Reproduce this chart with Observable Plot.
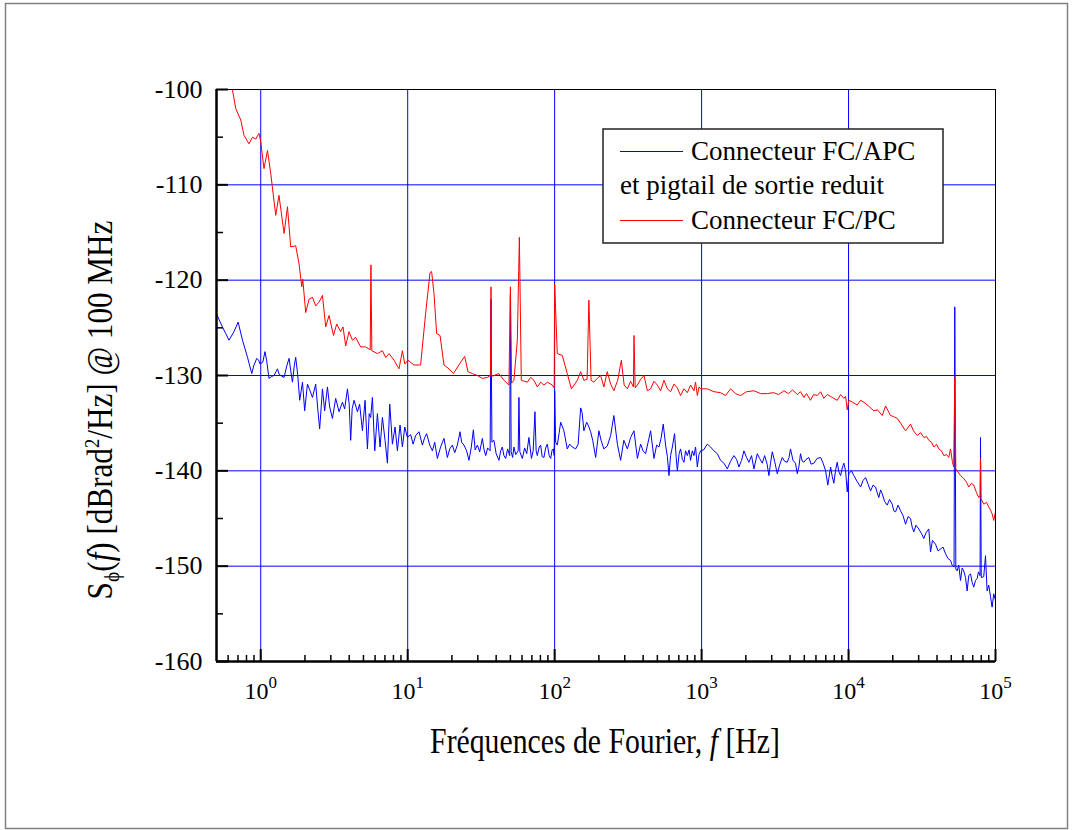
<!DOCTYPE html>
<html><head><meta charset="utf-8">
<script src="https://cdn.jsdelivr.net/npm/d3@7"></script>
<script src="https://cdn.jsdelivr.net/npm/@observablehq/plot@0.6"></script>
<style>
html,body{margin:0;padding:0;background:#fff;}
#chart{position:relative;width:1074px;height:830px;}
#chart svg{display:block;}
</style></head><body><div id="chart"></div>
<script>
// Series names
const legendLabels = ["Connecteur FC/APC", "et pigtail de sortie reduit", "Connecteur FC/PC"];

// Blue series: Connecteur FC/APC et pigtail de sortie reduit (frequency as decade exponent, value in dBrad²/Hz)
const apcLogF = [
-0.299,-0.261,-0.238,-0.216,-0.182,-0.154,-0.124,-0.090,-0.061,-0.048,
-0.027,-0.014,-0.005,0.014,0.029,0.041,0.056,0.075,0.090,0.114,
0.126,0.136,0.159,0.177,0.193,0.204,0.216,0.228,0.238,0.252,
0.265,0.284,0.299,0.318,0.333,0.352,0.374,0.388,0.401,0.420,
0.435,0.454,0.469,0.488,0.510,0.533,0.556,0.571,0.590,0.602,
0.612,0.622,0.635,0.658,0.673,0.692,0.710,0.726,0.738,0.748,
0.760,0.776,0.794,0.812,0.828,0.846,0.862,0.878,0.896,0.914,
0.930,0.948,0.964,0.980,0.998,1.020,1.037,1.054,1.077,1.100,
1.116,1.129,1.150,1.168,1.184,1.202,1.224,1.247,1.270,1.286,
1.304,1.320,1.338,1.356,1.367,1.383,1.401,1.417,1.432,1.447,
1.459,1.474,1.490,1.508,1.520,1.531,1.544,1.561,1.567,1.573,
1.587,1.602,1.621,1.633,1.644,1.655,1.667,1.680,1.694,1.699,
1.704,1.714,1.723,1.735,1.752,1.757,1.763,1.780,1.796,1.810,
1.825,1.842,1.854,1.866,1.874,1.882,1.895,1.905,1.915,1.927,
1.939,1.950,1.963,1.973,1.983,1.991,1.997,2.000,2.007,2.018,
2.031,2.041,2.051,2.063,2.086,2.102,2.120,2.143,2.160,2.177,
2.187,2.199,2.218,2.231,2.245,2.259,2.279,2.301,2.316,2.335,
2.358,2.381,2.403,2.427,2.449,2.471,2.495,2.517,2.540,2.563,
2.585,2.602,2.619,2.636,2.653,2.676,2.694,2.710,2.724,2.739,
2.755,2.767,2.778,2.789,2.801,2.816,2.827,2.835,2.847,2.857,
2.869,2.880,2.891,2.903,2.915,2.925,2.937,2.948,2.959,2.971,
2.982,2.993,3.014,3.039,3.061,3.084,3.107,3.129,3.152,3.175,
3.197,3.220,3.238,3.254,3.272,3.288,3.306,3.322,3.340,3.356,
3.379,3.395,3.413,3.429,3.446,3.458,3.469,3.481,3.497,3.515,
3.531,3.549,3.565,3.583,3.595,3.605,3.622,3.639,3.651,3.663,
3.673,3.685,3.696,3.711,3.730,3.745,3.764,3.786,3.810,3.827,
3.844,3.859,3.878,3.889,3.900,3.912,3.923,3.934,3.946,3.957,
3.968,3.980,3.991,4.002,4.020,4.036,4.058,4.082,4.099,4.116,
4.133,4.150,4.167,4.184,4.195,4.206,4.218,4.229,4.245,4.263,
4.279,4.297,4.308,4.320,4.337,4.354,4.371,4.388,4.405,4.422,
4.433,4.444,4.459,4.478,4.497,4.512,4.527,4.546,4.558,4.571,
4.592,4.609,4.626,4.643,4.660,4.677,4.694,4.705,4.718,4.723,
4.730,4.739,4.750,4.762,4.773,4.784,4.796,4.807,4.818,4.830,
4.841,4.852,4.864,4.875,4.884,4.895,4.898,4.903,4.920,4.932,
4.943,4.954,4.966,4.977,4.988,5.000];
const apcDb = [
-123.6,-124.9,-125.6,-126.3,-125.4,-124.4,-126.3,-128.1,-129.8,-129.0,
-128.2,-128.4,-128.8,-128.6,-127.5,-128.5,-130.3,-130.1,-130.0,-129.3,
-129.9,-130.0,-130.2,-129.0,-128.2,-129.5,-130.7,-129.0,-128.1,-130.0,
-132.6,-130.7,-133.7,-130.9,-131.5,-132.3,-130.9,-133.5,-135.6,-131.4,
-133.7,-131.2,-133.3,-134.5,-132.4,-133.8,-132.8,-133.5,-131.4,-133.0,
-136.8,-133.5,-132.6,-133.8,-133.0,-135.8,-132.6,-137.7,-134.0,-134.4,
-132.3,-137.9,-134.0,-137.5,-134.4,-136.8,-139.2,-133.0,-137.2,-135.4,
-137.9,-135.2,-137.5,-135.4,-136.5,-136.2,-137.2,-136.3,-135.9,-137.3,
-136.5,-136.1,-137.3,-137.9,-137.0,-138.7,-137.5,-136.6,-138.6,-137.7,
-137.3,-138.1,-137.3,-135.9,-137.0,-137.3,-137.9,-138.9,-137.6,-135.7,
-137.8,-137.3,-138.0,-136.6,-137.8,-138.4,-137.6,-137.9,-122.0,-137.0,
-136.8,-138.2,-138.9,-137.9,-137.5,-138.4,-138.7,-137.7,-138.4,-121.5,
-138.0,-138.6,-137.5,-138.3,-137.9,-132.3,-138.0,-138.7,-137.6,-138.2,
-136.5,-138.7,-137.9,-133.8,-137.9,-138.4,-137.5,-137.3,-138.5,-138.6,
-137.6,-137.2,-138.4,-138.7,-137.8,-137.7,-138.4,-131.6,-137.0,-137.3,
-136.0,-134.9,-135.3,-135.8,-137.7,-137.2,-137.5,-137.7,-137.2,-133.4,
-133.9,-135.8,-134.9,-135.3,-135.9,-136.8,-138.6,-135.8,-136.8,-137.7,
-137.4,-136.3,-134.2,-137.2,-138.9,-136.8,-137.7,-136.5,-135.8,-138.7,
-137.2,-137.9,-138.2,-137.0,-135.8,-138.7,-137.3,-137.5,-136.6,-135.1,
-137.3,-138.5,-140.5,-138.4,-137.5,-136.1,-138.6,-140.0,-138.2,-137.7,
-138.8,-139.1,-137.9,-138.4,-137.8,-138.9,-137.9,-138.4,-137.5,-139.6,
-138.3,-137.9,-137.8,-137.2,-137.5,-137.9,-138.2,-138.9,-139.2,-139.8,
-139.0,-138.4,-138.8,-139.6,-138.9,-137.9,-138.6,-139.1,-138.4,-139.8,
-138.2,-138.7,-139.2,-138.4,-139.3,-140.5,-139.2,-138.0,-139.0,-140.3,
-139.4,-138.6,-139.0,-139.1,-138.6,-137.7,-138.9,-139.2,-140.3,-139.5,
-138.2,-139.0,-139.1,-138.8,-138.6,-139.3,-139.2,-138.7,-138.6,-139.2,
-140.0,-141.5,-139.6,-140.6,-141.3,-139.9,-139.1,-140.1,-140.5,-139.7,
-139.2,-140.0,-142.2,-140.3,-140.0,-140.5,-141.1,-141.7,-141.0,-140.7,
-141.4,-142.1,-141.5,-141.7,-142.3,-142.8,-142.0,-142.4,-143.2,-143.6,
-143.0,-143.5,-144.2,-144.3,-143.6,-144.2,-144.7,-145.6,-144.8,-145.0,
-145.9,-146.4,-145.7,-146.1,-146.6,-147.1,-146.5,-146.1,-148.5,-147.3,
-147.7,-148.4,-148.2,-148.0,-148.7,-149.2,-149.4,-149.9,-150.1,-122.8,
-150.3,-150.5,-149.9,-151.5,-150.2,-150.5,-151.2,-152.6,-151.0,-150.8,
-151.7,-152.2,-151.5,-151.3,-150.6,-151.0,-136.5,-151.2,-151.1,-148.9,
-152.6,-152.0,-153.2,-154.3,-152.9,-153.6];

// Red series: Connecteur FC/PC
const pcLogF = [
-0.299,-0.238,-0.193,-0.170,-0.136,-0.114,-0.080,-0.056,-0.034,-0.012,
0.000,0.022,0.046,0.068,0.102,0.124,0.159,0.182,0.204,0.238,
0.261,0.279,0.286,0.306,0.329,0.352,0.374,0.397,0.420,0.442,
0.465,0.495,0.517,0.544,0.560,0.578,0.601,0.624,0.646,0.680,
0.714,0.745,0.750,0.756,0.794,0.828,0.850,0.873,0.907,0.941,
0.964,0.980,1.002,1.043,1.088,1.122,1.152,1.163,1.179,1.197,
1.220,1.247,1.281,1.311,1.361,1.388,1.410,1.440,1.474,1.508,
1.542,1.563,1.567,1.570,1.587,1.621,1.655,1.689,1.699,1.707,
1.723,1.746,1.760,1.773,1.814,1.837,1.859,1.882,1.905,1.927,
1.950,1.984,1.997,2.000,2.018,2.052,2.086,2.114,2.154,2.177,
2.199,2.221,2.233,2.248,2.267,2.290,2.313,2.335,2.358,2.381,
2.403,2.429,2.454,2.473,2.495,2.517,2.536,2.540,2.548,2.563,
2.585,2.608,2.631,2.653,2.676,2.699,2.721,2.744,2.767,2.789,
2.812,2.835,2.857,2.880,2.903,2.925,2.948,2.959,2.971,2.983,
2.993,3.039,3.084,3.129,3.163,3.197,3.231,3.265,3.306,3.356,
3.401,3.447,3.490,3.524,3.560,3.592,3.619,3.651,3.673,3.696,
3.714,3.741,3.762,3.787,3.810,3.832,3.855,3.878,3.900,3.923,
3.946,3.968,3.980,3.991,4.002,4.027,4.059,4.082,4.104,4.136,
4.172,4.197,4.229,4.252,4.286,4.306,4.331,4.354,4.388,4.422,
4.442,4.467,4.490,4.512,4.531,4.546,4.565,4.580,4.599,4.614,
4.633,4.648,4.667,4.682,4.694,4.707,4.716,4.723,4.730,4.739,
4.762,4.784,4.803,4.818,4.837,4.852,4.871,4.886,4.895,4.898,
4.901,4.920,4.939,4.954,4.966,4.977,4.988,5.000];
const pcDb = [
-97.0,-98.6,-100.0,-102.0,-103.2,-104.8,-105.7,-105.0,-105.2,-104.6,
-105.5,-108.3,-106.4,-108.8,-113.2,-111.1,-115.1,-112.3,-116.5,-116.4,
-118.3,-120.7,-119.9,-123.4,-122.0,-121.8,-122.7,-122.3,-121.6,-124.9,
-123.7,-125.8,-124.6,-125.4,-124.9,-126.9,-125.4,-126.3,-126.0,-127.0,
-127.0,-127.3,-118.4,-127.4,-127.7,-127.4,-128.1,-127.7,-128.4,-129.3,
-127.4,-128.8,-128.4,-128.9,-128.9,-123.5,-119.2,-119.1,-121.4,-125.6,
-125.8,-128.9,-129.3,-129.8,-128.6,-128.0,-129.6,-129.8,-130.0,-130.3,
-130.2,-130.0,-120.7,-130.1,-130.0,-129.8,-130.5,-131.0,-120.7,-130.8,
-130.5,-126.3,-115.5,-130.5,-130.7,-130.2,-130.5,-131.2,-130.7,-131.0,
-130.7,-131.0,-131.3,-120.4,-127.7,-127.9,-129.8,-131.4,-130.5,-129.6,
-130.5,-130.4,-122.1,-130.5,-130.7,-130.3,-130.0,-131.2,-129.6,-130.9,
-131.6,-130.5,-128.4,-131.0,-131.4,-130.6,-131.2,-125.8,-131.3,-131.0,
-130.4,-130.0,-131.6,-131.4,-130.6,-131.0,-131.6,-130.5,-131.4,-131.7,
-130.9,-131.3,-132.1,-131.4,-131.8,-131.0,-131.6,-130.7,-132.1,-131.2,
-131.4,-131.4,-131.7,-131.8,-132.1,-131.4,-131.9,-132.1,-131.7,-131.6,
-131.9,-131.9,-131.8,-132.0,-131.6,-131.9,-131.5,-132.0,-131.7,-132.3,
-131.9,-132.6,-132.0,-132.1,-131.7,-132.4,-132.0,-132.2,-132.4,-132.6,
-132.0,-132.4,-132.2,-133.6,-132.6,-132.8,-133.1,-132.6,-132.8,-133.2,
-133.7,-133.6,-134.2,-133.2,-134.2,-134.3,-134.5,-135.0,-135.8,-135.1,
-135.8,-136.3,-136.0,-136.5,-136.4,-136.8,-137.0,-137.5,-137.2,-137.7,
-137.9,-138.4,-138.3,-138.6,-137.7,-139.1,-139.6,-130.2,-139.8,-140.0,
-140.5,-140.8,-141.2,-141.7,-141.3,-141.5,-142.3,-142.8,-142.6,-138.7,
-142.9,-143.5,-143.3,-143.8,-144.1,-144.5,-145.2,-144.3];

// Axes
const xMajorTicks = [1, 10, 100, 1000, 10000, 100000];
const xMinorTicks = [0.6, 0.7, 0.8, 0.9,
  2, 3, 4, 5, 6, 7, 8, 9,
  20, 30, 40, 50, 60, 70, 80, 90,
  200, 300, 400, 500, 600, 700, 800, 900,
  2000, 3000, 4000, 5000, 6000, 7000, 8000, 9000,
  20000, 30000, 40000, 50000, 60000, 70000, 80000, 90000];
const xGrid = [1, 10, 100, 1000, 10000];
const yMajorTicks = [-160, -150, -140, -130, -120, -110, -100];
const yMinorTicks = [-155, -145, -135, -125, -115, -105];
const yGrid = [-150, -140, -130, -120, -110];
const xDomain = [0.5, 100000];
const yDomain = [-160, -100];

const apc = apcLogF.map((e, i) => ({f: Math.pow(10, e), v: apcDb[i]}));
const pc = pcLogF.map((e, i) => ({f: Math.pow(10, e), v: pcDb[i]}));

const W = 1074, H = 830, mL = 216, mR = 79, mT = 89, mB = 169;
const innerW = W - mL - mR, innerH = H - mT - mB;

const plot = Plot.plot({
  width: W, height: H,
  marginLeft: mL, marginRight: mR, marginTop: mT, marginBottom: mB,
  x: {type: "log", domain: xDomain},
  y: {domain: yDomain},
  style: {fontFamily: "'Liberation Serif', 'Times New Roman', serif", background: "white", color: "black"},
  marks: [
    Plot.ruleX(xGrid, {stroke: "#0000ff", strokeWidth: 1}),
    Plot.ruleY(yGrid, {stroke: "#0000ff", strokeWidth: 1}),
    Plot.line(apc, {x: "f", y: "v", stroke: "#0000ff", strokeWidth: 1, clip: true}),
    Plot.line(pc, {x: "f", y: "v", stroke: "#ff0000", strokeWidth: 1, clip: true}),
    Plot.frame({stroke: "black", strokeWidth: 1}),
    Plot.ruleX([xDomain[0]], {stroke: "black", strokeWidth: 2.5}),
    Plot.ruleY([yDomain[0]], {stroke: "black", strokeWidth: 2.5}),
    Plot.tickX(xMajorTicks, {x: d => d, insetTop: innerH - 12, stroke: "black", strokeWidth: 2}),
    Plot.tickX(xMinorTicks, {x: d => d, insetTop: innerH - 6, stroke: "black", strokeWidth: 1.5}),
    Plot.tickY(yMajorTicks, {y: d => d, insetRight: innerW - 12, stroke: "black", strokeWidth: 2}),
    Plot.tickY(yMinorTicks, {y: d => d, insetRight: innerW - 7, stroke: "black", strokeWidth: 1.5}),
    Plot.axisY({ticks: yMajorTicks, tickSize: 0, tickPadding: 14, tickFormat: d => String(d), fontSize: 26, label: null}),
    Plot.axisX({ticks: xMajorTicks, tickSize: 0, tickPadding: 20, tickFormat: d => "10^" + Math.round(Math.log10(d)), fontSize: 24, label: null})
  ]
});
document.getElementById("chart").appendChild(plot);

const svg = d3.select(plot);
// superscript exponents on x tick labels
svg.selectAll('g[aria-label="x-axis tick label"] text').each(function() {
  const t = d3.select(this);
  const s = t.text();
  const parts = s.split("^");
  if (parts.length === 2) {
    t.text(parts[0]);
    t.append("tspan").attr("dy", -11).attr("font-size", 17).text(parts[1]);
  }
});

// outer frame
svg.append("rect").attr("x", 5.5).attr("y", 3.5).attr("width", 1062).attr("height", 825)
  .attr("fill", "none").attr("stroke", "#808080").attr("stroke-width", 1.5);

// x title
const xt = svg.append("text").attr("transform", "translate(605,753) scale(0.85,1)")
  .attr("text-anchor", "middle").attr("font-size", 35).attr("fill", "black");
xt.append("tspan").text("Fréquences de Fourier, ");
xt.append("tspan").attr("font-style", "italic").text("f");
xt.append("tspan").text(" [Hz]");

// y title
const yt = svg.append("text").attr("transform", "translate(112,410) rotate(-90) scale(0.89,1)")
  .attr("text-anchor", "middle").attr("font-size", 35).attr("fill", "black");
yt.append("tspan").text("S");
yt.append("tspan").attr("font-size", 22).attr("dy", 7).text("ϕ");
yt.append("tspan").attr("dy", -7).text("(");
yt.append("tspan").attr("font-style", "italic").text("f");
yt.append("tspan").text(") [dBrad");
yt.append("tspan").attr("font-size", 21).attr("dy", -13).text("2");
yt.append("tspan").attr("dy", 13).text("/Hz] @ 100 MHz");

// legend
const lg = svg.append("g").attr("text-anchor", "start");
lg.append("rect").attr("x", 603).attr("y", 129).attr("width", 340).attr("height", 114)
  .attr("fill", "white").attr("stroke", "#222").attr("stroke-width", 1.5);
lg.append("path").attr("d", "M620,151.5H683").attr("fill", "none")
  .attr("stroke", "#0000ff").attr("stroke-width", 1.2);
lg.append("path").attr("d", "M620,220.5H683").attr("fill", "none")
  .attr("stroke", "#ff0000").attr("stroke-width", 1.2);
lg.append("text").attr("x", 691).attr("y", 160).attr("text-anchor", "start").attr("font-size", 27).attr("fill", "black").text(legendLabels[0]);
lg.append("text").attr("x", 620).attr("y", 194).attr("text-anchor", "start").attr("font-size", 27).attr("fill", "black").text(legendLabels[1]);
lg.append("text").attr("x", 691).attr("y", 229).attr("text-anchor", "start").attr("font-size", 27).attr("fill", "black").text(legendLabels[2]);
</script>
</body></html>
